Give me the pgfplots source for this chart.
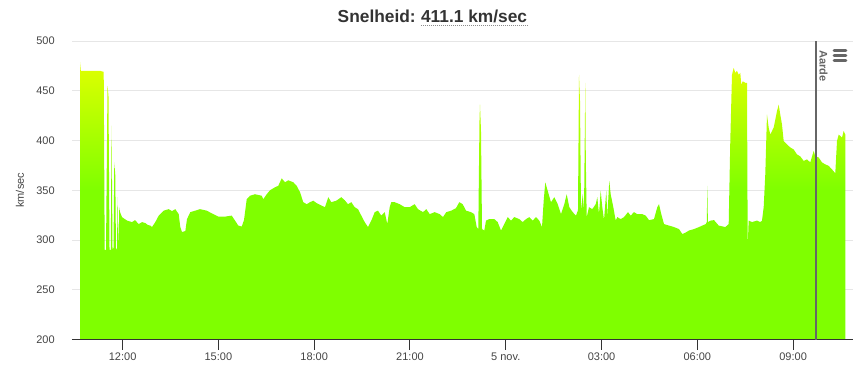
\documentclass[border=0pt]{standalone}
\usepackage{fontspec}
\setmainfont{Liberation Sans}
\usepackage{pgfplots}
\usepackage{pgfplotstable}
\pgfplotsset{compat=1.18}
\definecolor{sgreen}{RGB}{127,255,0}
\definecolor{syellow}{RGB}{224,255,0}
\definecolor{titlecol}{HTML}{333333}
\definecolor{labcol}{HTML}{444444}
\definecolor{gridcol}{HTML}{E6E6E6}
\definecolor{axcol}{HTML}{333333}
\definecolor{plcol}{HTML}{666666}
\pgfdeclareverticalshading{speedshade}{100bp}{color(0bp)=(sgreen); color(25bp)=(sgreen); color(51.9bp)=(sgreen); color(75bp)=(syellow); color(100bp)=(syellow)}

\pgfplotstableread{
t v
10.666 200
10.666 479
10.691 470
10.979 470
11.292 470
11.408 469
11.439 290
11.480 290
11.527 455
11.558 445
11.590 290
11.630 290
11.655 415
11.684 290
11.715 292
11.740 378
11.771 365
11.793 290
11.825 292
11.843 343
11.868 290
11.897 333
11.919 328
11.981 323
12.138 319.5
12.294 318
12.388 320
12.504 316
12.608 318
12.711 317
12.795 315
12.868 314.5
12.921 313
13.024 318
13.131 324.5
13.287 329.5
13.444 331
13.547 329
13.650 331
13.757 326
13.807 313
13.860 308
13.964 309
14.017 321
14.120 328
14.277 329.5
14.424 331
14.634 329.5
14.841 326
14.997 323.5
15.207 323.5
15.417 324.5
15.520 319.5
15.623 314.5
15.730 313.5
15.802 320
15.887 341
15.990 344.5
16.146 346
16.356 344.5
16.406 341
16.513 346
16.616 350
16.773 353
16.876 354.5
16.983 362
17.086 358
17.189 360
17.346 358
17.452 354.5
17.556 348
17.659 338
17.766 336
17.869 338
17.972 339.5
18.079 337
18.235 334.5
18.339 333
18.442 343
18.536 338
18.693 339.5
18.849 343
18.956 340
19.059 336
19.162 338
19.269 333
19.372 331
19.476 324.5
19.582 318
19.685 313
19.789 319.5
19.895 328
19.999 329.5
20.102 324.5
20.209 328
20.290 316
20.365 333
20.415 338
20.522 338
20.678 336
20.835 333
20.991 333
21.148 336
21.251 331
21.408 328
21.511 331
21.618 326
21.774 328
21.931 326
22.034 323
22.138 328
22.294 329.5
22.441 332
22.545 338
22.651 336
22.755 329.5
22.911 328
23.015 326
23.090 313
23.140 311
23.177 420
23.193 436
23.224 410
23.256 311
23.328 309.5
23.381 319.5
23.484 321
23.641 321
23.747 318
23.851 309.5
23.954 316
24.061 323
24.164 319.5
24.267 323
24.424 321
24.530 318
24.634 321
24.737 323
24.844 319.5
24.947 323
25.050 319.5
25.135 313
25.188 339.5
25.238 358
25.313 349.5
25.416 338
25.520 343
25.627 336
25.730 326
25.833 336
25.908 346
25.990 333
26.096 328
26.200 324.5
26.262 330
26.294 466
26.325 440
26.356 330
26.410 346
26.451 330
26.491 458
26.507 380
26.535 323
26.607 333
26.710 331
26.817 336
26.867 343
26.920 326
26.973 349.5
27.023 333
27.077 320
27.149 349.5
27.180 323
27.242 359.5
27.286 346
27.368 333
27.443 319.5
27.493 323
27.599 321
27.703 323
27.828 328
27.913 324.5
28.016 328
28.119 326
28.276 326
28.382 324.5
28.486 320
28.642 321
28.746 333
28.799 336
28.871 326
28.956 316
29.112 314.5
29.269 313
29.425 311
29.529 306
29.635 307.5
29.738 309.5
29.895 311
30.052 313
30.155 314.5
30.262 316
30.296 318
30.312 354.5
30.330 318
30.418 319.5
30.521 320
30.669 314.5
30.875 313
30.982 316
31.032 399.5
31.085 466
31.138 473
31.188 468
31.242 470
31.295 466
31.345 468
31.376 456
31.420 459.5
31.502 458
31.555 458
31.577 293
31.608 319.5
31.712 318
31.868 319.5
31.971 318
32.025 319.5
32.078 333
32.128 366
32.181 426
32.234 413
32.284 406
32.391 413
32.494 429.5
32.548 436
32.598 426
32.651 416
32.704 399.5
32.808 396
32.911 393
33.017 391
33.121 386
33.224 384
33.331 379.5
33.434 381
33.537 378
33.644 389.5
33.694 384
33.800 383
33.904 378
34.007 376
34.113 374.5
34.217 371
34.320 367
34.374 399.5
34.427 406
34.530 403
34.583 409.5
34.634 406
34.634 200
}\speeddata

\begin{document}
\begin{tikzpicture}[x=0.75pt,y=0.75pt]
\begin{axis}[
  at={(54pt,22.125pt)}, anchor=south west,
  scale only axis, width=585.75pt, height=223.875pt,
  xmin=10.415, xmax=34.875, ymin=200, ymax=500,
  axis x line*=bottom, axis y line*=left,
  x axis line style={draw=none},
  y axis line style={draw=none},
  tick align=outside,
  major tick length=7.5pt,
  xtick={12,15,18,21,24,27,30,33},
  xticklabels={12:00,15:00,18:00,21:00,5 nov.,03:00,06:00,09:00},
  ytick={200,250,300,350,400,450,500},
  xtick style={axcol, line width=0.75pt},
  ytick style={draw=none},
  ymajorgrids, grid style={gridcol, line width=0.75pt},
  tick label style={font=\fontsize{8.25}{10}\selectfont, text=labcol},
  /pgf/number format/assume math mode=true,
  xticklabel style={inner sep=0pt, yshift=-2.6pt},
  yticklabel style={inner sep=0pt, xshift=-5.25pt},
  ylabel={km/sec},
  ylabel style={at={(axis description cs:-0.0666,0.5)}, anchor=center, font=\fontsize{8.25}{10}\selectfont, text=labcol},
  clip=true,
]
\addplot[draw=none, shading=speedshade] table[x=t,y=v]{\speeddata};
\draw[axcol, line width=0.75pt] (axis cs:10.415,200) -- (axis cs:34.875,200);
\draw[plcol, line width=1.5pt] (axis cs:33.71,200) -- (axis cs:33.71,500);
\node[rotate=-90, anchor=south west, inner sep=0pt, font=\bfseries\fontsize{8.25}{10}\selectfont, text=plcol] at ([xshift=2.5pt,yshift=-6.75pt]axis cs:33.71,500) {Aarde};
\end{axis}
\node[anchor=base east, inner sep=0pt, font=\bfseries\fontsize{13}{15}\selectfont, text=titlecol] (t1) at (416,347) {Snelheid:};
\node[anchor=base west, inner sep=0pt, font=\bfseries\fontsize{13}{15}\selectfont, text=titlecol] (t2) at (420.8,347) {411.1 km/sec};
\draw[black!45, line width=0.6pt, dash pattern=on 0.75pt off 0.75pt] ([yshift=-2.6pt]t2.base west) -- ([yshift=-2.6pt]t2.base east);
\foreach \yy in {318.5,313.5,308.5} \draw[plcol, line width=2pt, line cap=round] (834,\yy) -- (846,\yy);
\pgfresetboundingbox
\useasboundingbox (0,0) rectangle (865,369);
\end{tikzpicture}
\end{document}
